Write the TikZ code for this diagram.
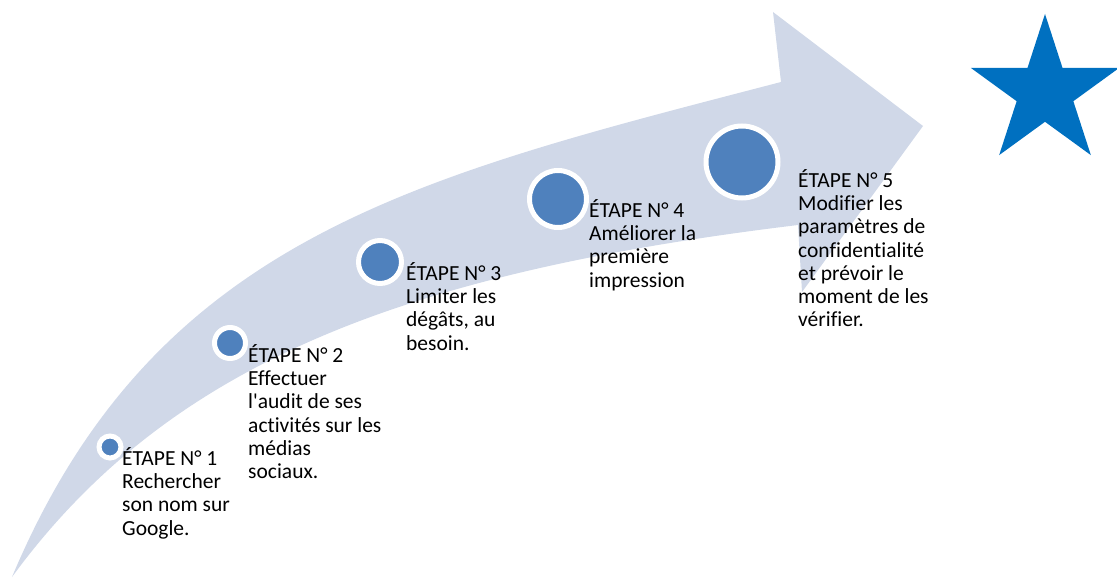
\documentclass[tikz,border=0pt]{standalone}
\usepackage{fontspec}
\setmainfont{Carlito}[Ligatures=NoCommon]
\usepackage{xcolor}
\usetikzlibrary{shapes.geometric}
\definecolor{band}{HTML}{D0D8E8}
\definecolor{dotblue}{HTML}{4F81BD}
\definecolor{starblue}{HTML}{0070C0}
\tikzset{
  shaft/.style={fill=band, draw=none},
  stepdot/.style={circle, fill=dotblue, draw=white, line width=5pt, inner sep=0pt},
  steptext/.style={anchor=north west, inner sep=0pt, align=left, font=\fontsize{21.5}{23.3}\selectfont},
  goal/.style={star, star points=5, star point ratio=2.618, fill=starblue, inner sep=0pt, minimum size=156pt},
}
\begin{document}
\begin{tikzpicture}[x=1pt, y=-1pt]
  \useasboundingbox (0,0) rectangle (1117,578);
  \coordinate (tail) at (12,577);
  \coordinate (neckT) at (781,82);
  \coordinate (barbT) at (773,12);
  \coordinate (tip) at (923,126);
  \coordinate (barbB) at (802,292);
  \coordinate (neckB) at (798,225);
  \fill[shaft] (tail) .. controls (155,237) and (416,177) .. (neckT) -- (barbT) -- (tip)
    -- (barbB) -- (neckB) .. controls (402,273) and (168,364) .. (tail) -- cycle;
  \foreach \n/\x/\y/\d in {1/110/447/22, 2/230/343/31, 3/380/262/43, 4/558/199/57, 5/742/162/72}
    \node[stepdot, minimum size=\d pt] (dot\n) at (\x,\y) {};
  \node[steptext] (txt1) at (122,447) {ÉTAPE N° 1\\Rechercher\\son nom sur\\Google.};
  \node[steptext] (txt2) at (248,344) {ÉTAPE N° 2\\Effectuer\\l\textquotesingle audit de ses\\activités sur les\\médias\\sociaux.};
  \node[steptext] (txt3) at (406,262) {ÉTAPE N° 3\\Limiter les\\dégâts, au\\besoin.};
  \node[steptext] (txt4) at (589,199) {ÉTAPE N° 4\\Améliorer la\\première\\impression};
  \node[steptext] (txt5) at (798,169) {ÉTAPE N° 5\\Modifier les\\paramètres de\\confidentialité\\et prévoir le\\moment de les\\vérifier.};
  \node[goal] (goal) at (1045,92) {};
\end{tikzpicture}
\end{document}
